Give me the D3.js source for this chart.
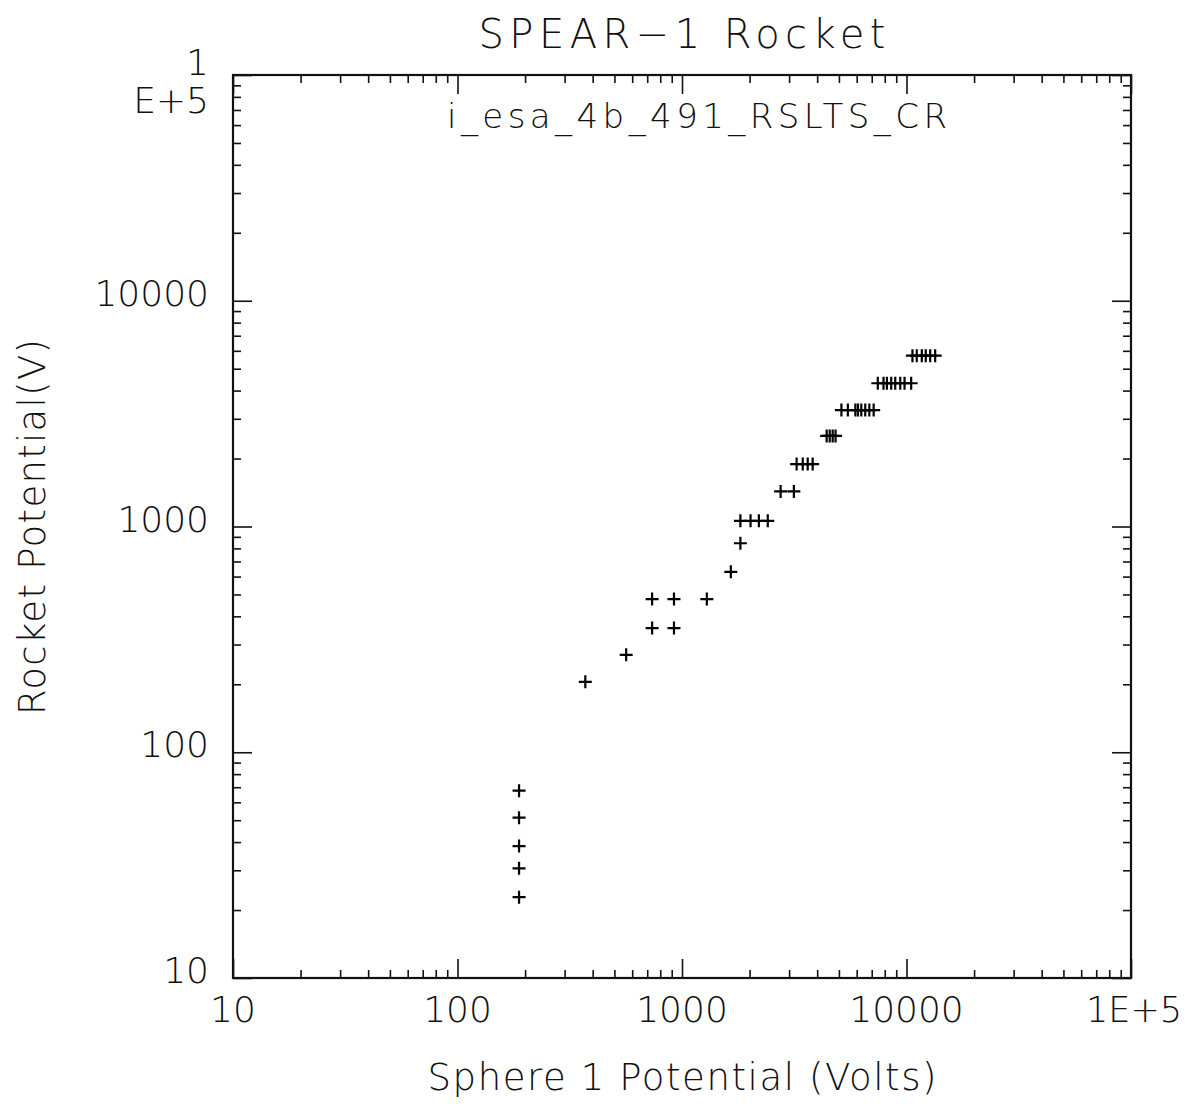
<!DOCTYPE html>
<html>
<head>
<meta charset="utf-8">
<script src="https://cdn.jsdelivr.net/npm/d3@7"></script>
<style>
  html, body { margin: 0; padding: 0; background: #fff; }
  svg { display: block; }
  text { font-family: "DejaVu Sans", "Liberation Sans", sans-serif; fill: #111; }
</style>
</head>
<body>
<div id="chart"></div>
<script>
// ---- data ----
const title = "SPEAR\u22121 Rocket";
const subtitle = "i_esa_4b_491_RSLTS_CR";
const xLabel = "Sphere 1 Potential (Volts)";
const yLabel = "Rocket Potential(V)";

const xTickValues = [10, 100, 1000, 10000, 100000];
const xTickLabels = ["10", "100", "1000", "10000", "1E+5"];
const yTickValues = [10, 100, 1000, 10000];
const yTickLabels = ["10", "100", "1000", "10000"];
const yTopLabelLines = ["1", "E+5"];

// sphere potential (x) and rocket potential (y), one entry per "+" marker
const sphereVolts = [
  188, 188, 188, 188, 188,
  371, 564,
  736, 921, 1290,
  736, 921,
  1650, 1820,
  1820, 2020, 2200, 2410,
  2750, 3150,
  3240, 3450, 3630, 3820,
  4410, 4550, 4690, 4830,
  5130, 5480, 5920, 6080, 6290, 6550, 6830, 7140,
  7450, 7900, 8180, 8550, 8910, 9380, 9800, 10490,
  10630, 11110, 11700, 12180, 12750, 13420
];
const rocketVolts = [
  67.6, 51.3, 38.4, 30.6, 22.8,
  205, 270,
  477, 477, 477,
  355, 355,
  630, 843,
  1060, 1060, 1060, 1060,
  1430, 1430,
  1890, 1890, 1890, 1890,
  2520, 2520, 2520, 2520,
  3280, 3280, 3280, 3280, 3280, 3280, 3280, 3280,
  4310, 4310, 4310, 4310, 4310, 4310, 4310, 4310,
  5710, 5710, 5710, 5710, 5710, 5710
];

// ---- layout ----
const W = 1197, H = 1104;
const L = 233, R = 1131, T = 75, B = 978;

const svg = d3.select("#chart").append("svg").attr("width", W).attr("height", H);

const x = d3.scaleLog().domain([10, 100000]).range([L, R]);
const y = d3.scaleLog().domain([10, 100000]).range([B, T]);

// minor tick values
function minorTicks() {
  const out = [];
  for (let e = 1; e < 5; e++) for (let m = 2; m <= 9; m++) out.push(m * Math.pow(10, e));
  return out;
}
const minors = minorTicks();
const majors = [10, 100, 1000, 10000, 100000];

const axisColor = "#111";
const tickW = 1.6;
const majorLen = 19, minorLen = 8;

// bottom axis (ticks inward)
svg.append("g").attr("transform", `translate(0,${B})`)
  .call(d3.axisBottom(x).tickValues(minors).tickSize(-minorLen).tickFormat(""));
svg.append("g").attr("transform", `translate(0,${B})`)
  .call(d3.axisBottom(x).tickValues(majors).tickSize(-majorLen).tickFormat(""));
// top axis
svg.append("g").attr("transform", `translate(0,${T})`)
  .call(d3.axisTop(x).tickValues(minors).tickSize(-minorLen).tickFormat(""));
svg.append("g").attr("transform", `translate(0,${T})`)
  .call(d3.axisTop(x).tickValues(majors).tickSize(-majorLen).tickFormat(""));
// left axis
svg.append("g").attr("transform", `translate(${L},0)`)
  .call(d3.axisLeft(y).tickValues(minors).tickSize(-minorLen).tickFormat(""));
svg.append("g").attr("transform", `translate(${L},0)`)
  .call(d3.axisLeft(y).tickValues(majors).tickSize(-majorLen).tickFormat(""));
// right axis
svg.append("g").attr("transform", `translate(${R},0)`)
  .call(d3.axisRight(y).tickValues(minors).tickSize(-minorLen).tickFormat(""));
svg.append("g").attr("transform", `translate(${R},0)`)
  .call(d3.axisRight(y).tickValues(majors).tickSize(-majorLen).tickFormat(""));

svg.selectAll(".domain").remove();
svg.selectAll(".tick line").attr("stroke", axisColor).attr("stroke-width", tickW);

// frame
svg.append("rect")
  .attr("x", L).attr("y", T).attr("width", R - L).attr("height", B - T)
  .attr("fill", "none").attr("stroke", axisColor).attr("stroke-width", 2.2);

// tick labels
const tickFont = 36;
svg.append("g").selectAll("text").data(xTickValues).join("text")
  .attr("x", (d, i) => x(d) + (i === xTickValues.length - 1 ? 3 : 0)).attr("y", 1022)
  .attr("text-anchor", "middle")
  .attr("font-size", tickFont).attr("font-weight", 300)
  .each(function (d, i) {
    if (i === xTickValues.length - 1) d3.select(this).attr("textLength", 96).attr("lengthAdjust", "spacingAndGlyphs");
  })
  .text((d, i) => xTickLabels[i]);

svg.append("g").selectAll("text").data(yTickValues).join("text")
  .attr("x", 209).attr("y", d => y(d) + 5)
  .attr("text-anchor", "end")
  .attr("font-size", tickFont).attr("font-weight", 300)
  .text((d, i) => yTickLabels[i]);

svg.append("g").selectAll("text").data(yTopLabelLines).join("text")
  .attr("x", 209).attr("y", (d, i) => 75 + i * 38)
  .attr("text-anchor", "end")
  .attr("font-size", tickFont).attr("font-weight", 300)
  .text(d => d);

// title & subtitle
svg.append("text").attr("x", 682).attr("y", 48)
  .attr("text-anchor", "middle").attr("font-size", 40).attr("font-weight", 300)
  .attr("textLength", 407).attr("lengthAdjust", "spacing")
  .text(title);
svg.append("text").attr("x", 697).attr("y", 128)
  .attr("text-anchor", "middle").attr("font-size", 34).attr("font-weight", 300)
  .attr("textLength", 500).attr("lengthAdjust", "spacing")
  .text(subtitle);

// axis titles
svg.append("text").attr("x", 682).attr("y", 1090)
  .attr("text-anchor", "middle").attr("font-size", 37).attr("font-weight", 300)
  .attr("textLength", 509).attr("lengthAdjust", "spacing")
  .text(xLabel);
svg.append("text")
  .attr("transform", "translate(45,527) rotate(-90)")
  .attr("text-anchor", "middle").attr("font-size", 37).attr("font-weight", 300)
  .attr("textLength", 376).attr("lengthAdjust", "spacing")
  .text(yLabel);

// markers
const pts = sphereVolts.map((v, i) => ({ x: v, y: rocketVolts[i] }));
const arm = 6.5;
const g = svg.append("g").attr("stroke", "#000").attr("stroke-width", 2.2).attr("fill", "none");
g.selectAll("path").data(pts).join("path")
  .attr("d", d => {
    const cx = x(d.x), cy = y(d.y);
    return `M${cx - arm},${cy}H${cx + arm}M${cx},${cy - arm}V${cy + arm}`;
  });
</script>
</body>
</html>
